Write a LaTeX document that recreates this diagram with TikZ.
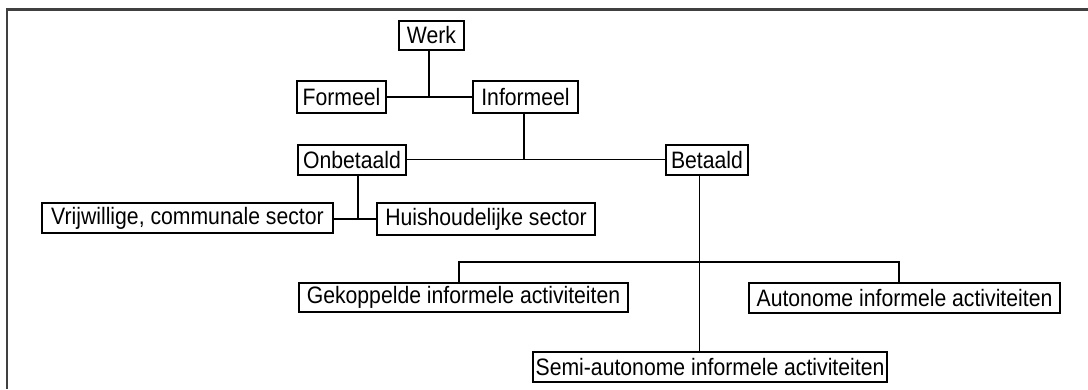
\documentclass[tikz,border=0pt]{standalone}
\usepackage{fontspec}
\usepackage{graphicx}
\setmainfont{Liberation Sans}
\newcommand\mkbox[6]{%
  \node[box, minimum width={(#4-#2)*0.75pt}, minimum height={(#5-#3)*0.75pt}]
    (#1) at ({(#2+#4)/2},{(#3+#5)/2}) {\scalebox{1}[1.12]{#6}};}
\tikzset{
  box/.style={draw=black, line width=1pt, fill=white, inner sep=0pt, outer sep=0pt,
    font=\fontsize{15.9}{18}\selectfont},
  link/.style={draw=black, line width=1.05pt},
  frame/.style={draw=black!75, line width=1.6pt}
}
\begin{document}
\begin{tikzpicture}[x=0.75pt, y=-0.75pt]
\useasboundingbox (0,0) rectangle (1088,389);
% frame
\coordinate (fTL) at (7,9.5);
\coordinate (fTR) at (1088,9.5);
\coordinate (fBL) at (7,389);
\draw[frame] (fTR) -- (fTL) -- (fBL);
% nodes
\mkbox{werk}{399}{21}{464}{50}{Werk}
\mkbox{formeel}{297}{81}{386}{113}{Formeel}
\mkbox{informeel}{473}{81}{578}{113}{Informeel}
\mkbox{onbetaald}{298}{145}{406}{175}{Onbetaald}
\mkbox{betaald}{666}{145}{748}{175}{Betaald}
\mkbox{vrijw}{42}{203}{333}{233}{Vrijwillige, communale sector}
\mkbox{huish}{377}{203}{595}{235}{Huishoudelijke sector}
\mkbox{gekop}{299}{283}{628}{312}{Gekoppelde informele activiteiten}
\mkbox{auton}{749}{283}{1060}{313}{Autonome informele activiteiten}
\mkbox{semi}{533}{352}{887}{382}{Semi-autonome informele activiteiten}
% junctions
\coordinate (j1) at (429,97);
\coordinate (j2) at (524,159.5);
\coordinate (j3) at (358,219);
\coordinate (j4) at (699.5,262);
\coordinate (jL) at (459,262);
\coordinate (jR) at (899,262);
% connectors
\draw[link] (werk.south -| j1) -- (j1);
\draw[link] (formeel.east |- j1) -- (informeel.west |- j1);
\draw[link] (informeel.south -| j2) -- (j2);
\draw[link] (onbetaald.east |- j2) -- (betaald.west |- j2);
\draw[link] (onbetaald.south -| j3) -- (j3);
\draw[link] (vrijw.east |- j3) -- (huish.west |- j3);
\draw[link] (betaald.south -| j4) -- (semi.north -| j4);
\draw[link] (gekop.north -| jL) -- (jL) -- (jR) -- (auton.north -| jR);
\end{tikzpicture}
\end{document}
